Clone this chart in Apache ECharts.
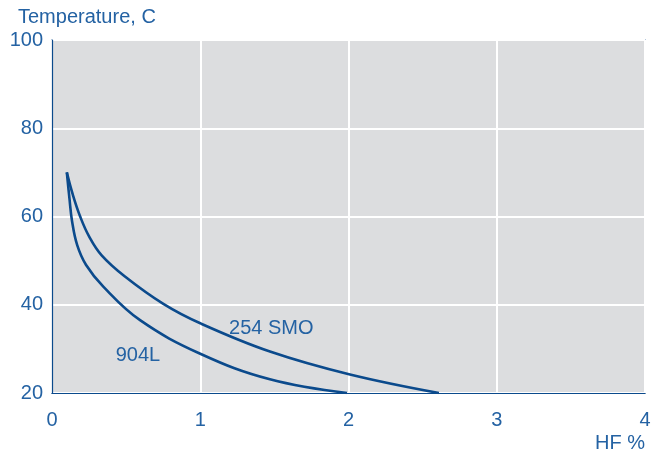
<!DOCTYPE html>
<html>
<head>
<meta charset="utf-8">
<script src="https://cdn.jsdelivr.net/npm/echarts@6/dist/echarts.min.js"></script>
<style>html,body{margin:0;padding:0;background:#fff}#c{width:664px;height:455px}</style>
</head>
<body>
<div id="c"></div>
<script>
const xTicks = [0, 1, 2, 3, 4];
const yTicks = [20, 40, 60, 80, 100];
const smo254 = [[0.10,70],[0.14,65],[0.19,60],[0.25,55.5],[0.335,51.2],[0.492,46.4],[0.751,40.2],[1.00,35.8],[1.47,29.4],[2.01,24.2],[2.61,20]];
const l904 = [[0.10,70],[0.118,64],[0.135,59],[0.17,53.5],[0.23,49],[0.346,44.1],[0.594,36.5],[1.00,28.9],[1.47,23.1],[1.99,20]];
const labels = [{name:'254 SMO', value:[1.479,34.6]},{name:'904L', value:[0.58,28.6]}];

const lineColor = '#0b4a8c';
const textColor = '#2462a3';
const font = 'Liberation Sans, Arial, sans-serif';

const chart = echarts.init(document.getElementById('c'), null, {renderer:'canvas'});
chart.setOption({
  animation: false,
  grid: {left:52, right:19, top:40, bottom:62, show:true, backgroundColor:'#dcdddf', borderColor:lineColor, borderWidth:1.2},
  xAxis: {
    type:'value', min:xTicks[0], max:xTicks[xTicks.length-1], interval:1,
    name:'HF %', nameLocation:'end', nameGap:0,
    nameTextStyle:{color:textColor, fontSize:20, fontFamily:font, align:'right', verticalAlign:'top', padding:[40,0,0,0]},
    axisLine:{show:true, lineStyle:{color:lineColor, width:1.2}},
    axisTick:{show:false},
    axisLabel:{color:textColor, fontSize:20, fontFamily:font, margin:17},
    splitLine:{show:true, lineStyle:{color:'#ffffff', width:2}}
  },
  yAxis: {
    type:'value', min:yTicks[0], max:yTicks[yTicks.length-1], interval:20,
    name:'Temperature, C', nameLocation:'end', nameGap:13,
    nameTextStyle:{color:textColor, fontSize:20, fontFamily:font, align:'left', padding:[0,0,0,-34]},
    axisLine:{show:true, lineStyle:{color:lineColor, width:1.2}},
    axisTick:{show:false},
    axisLabel:{color:textColor, fontSize:20, fontFamily:font, margin:9},
    splitLine:{show:true, lineStyle:{color:'#ffffff', width:2}}
  },
  series: [
    {type:'line', data:smo254, smooth:0.4, symbol:'none', lineStyle:{color:lineColor, width:2.6}},
    {type:'line', data:l904, smooth:0.4, symbol:'none', lineStyle:{color:lineColor, width:2.6}},
    {type:'scatter', data:labels, symbolSize:0, silent:true, itemStyle:{opacity:1},
     label:{show:true, position:'inside', formatter:p=>p.name, color:textColor, opacity:1, fontSize:20, fontFamily:font}}
  ]
});
</script>
</body>
</html>
